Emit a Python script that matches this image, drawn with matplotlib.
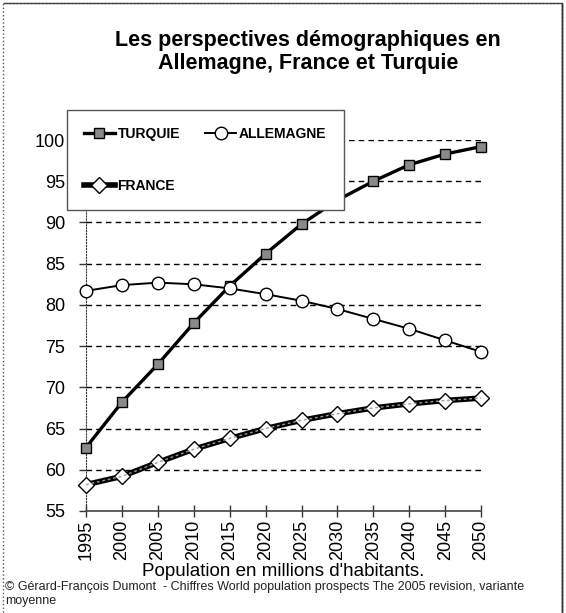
import matplotlib.pyplot as plt
import matplotlib.patches as mpatches

plt.rcParams['font.family'] = ['Liberation Sans', 'DejaVu Sans']

annees = [1995, 2000, 2005, 2010, 2015, 2020, 2025, 2030, 2035, 2040, 2045, 2050]
turquie = [62.7, 68.2, 72.8, 77.8, 82.3, 86.2, 89.8, 92.7, 95.0, 97.0, 98.3, 99.2]
allemagne = [81.7, 82.4, 82.7, 82.5, 82.0, 81.3, 80.5, 79.5, 78.3, 77.1, 75.7, 74.3]
france = [58.2, 59.2, 60.9, 62.5, 63.8, 65.0, 66.0, 66.8, 67.5, 68.0, 68.4, 68.7]
graduations_y = [55, 60, 65, 70, 75, 80, 85, 90, 95, 100]

fig = plt.figure(figsize=(5.66, 6.13), dpi=100)
ax = fig.add_axes([0.152, 0.1664, 0.698, 0.6052])

# cadre autour de la figure
cadre = mpatches.Rectangle((0.006, -0.05), 0.987, 1.045, transform=fig.transFigure,
                           fill=False, edgecolor='#555555', lw=1.0, linestyle=':')
fig.patches.append(cadre)
fig.patches.append(mpatches.Rectangle((0.993, -0.05), 0.0, 1.045, transform=fig.transFigure,
                                      fill=False, edgecolor='#333333', lw=1.0))
fig.patches.append(mpatches.Rectangle((0.006, 0.995), 0.987, 0.0, transform=fig.transFigure,
                                      fill=False, edgecolor='#444444', lw=1.0))

for v in graduations_y[1:]:
    ax.axhline(v, color='black', lw=1.0, linestyle=(0, (4, 3)), zorder=1)

l_t, = ax.plot(annees, turquie, color='black', lw=2.4, marker='s', markersize=7,
               markerfacecolor='#8a8a8a', markeredgecolor='black', markeredgewidth=1,
               clip_on=False, zorder=3, label='TURQUIE')
l_a, = ax.plot(annees, allemagne, color='black', lw=1.4, marker='o', markersize=9,
               markerfacecolor='white', markeredgecolor='black', markeredgewidth=1,
               clip_on=False, zorder=3, label='ALLEMAGNE')
l_f, = ax.plot(annees, france, color='black', lw=4.0, marker='D', markersize=8,
               markerfacecolor='white', markeredgecolor='black', markeredgewidth=1,
               clip_on=False, zorder=3, label='FRANCE')
ax.plot(annees, france, color='#9a9a9a', lw=1.0, linestyle=(0, (2, 2)), zorder=3.5,
        clip_on=False)

ax.set_xlim(1995, 2050)
ax.set_ylim(55, 100)
ax.set_xticks(annees)
ax.set_xticklabels([str(a) for a in annees], rotation=90, fontsize=13)
ax.set_yticks(graduations_y)
ax.set_yticklabels([str(v) for v in graduations_y], fontsize=13)
ax.tick_params(axis='x', direction='inout', length=9, width=1, color='#333333', pad=2)
ax.tick_params(axis='y', direction='out', length=5, width=1, color='#333333', pad=10)

ax.spines['top'].set_visible(False)
ax.spines['right'].set_visible(False)
ax.spines['left'].set_linestyle(':')
ax.spines['left'].set_color('#333333')
ax.spines['bottom'].set_color('#444444')
ax.spines['bottom'].set_linewidth(1.2)

ax.set_xlabel("Population en millions d'habitants.", fontsize=13.5, labelpad=2)

fig.text(0.544, 0.915, 'Les perspectives démographiques en\nAllemagne, France et Turquie',
         ha='center', va='center', fontsize=15.5, fontweight='bold', linespacing=1.1)

fig.text(0.009, 0.031, '© Gérard-François Dumont  - Chiffres World population prospects '
         'The 2005 revision, variante\nmoyenne', ha='left', va='center',
         fontsize=9, color='#222222', linespacing=1.2)

leg = ax.legend([l_t, l_f, l_a], ['TURQUIE', 'FRANCE', 'ALLEMAGNE'], ncol=2,
                loc='upper left', bbox_to_anchor=(0.118, 0.6576, 0.489, 0.163),
                bbox_transform=fig.transFigure, mode='expand',
                prop={'size': 10, 'weight': 'bold'}, framealpha=1,
                frameon=True, fancybox=False, borderaxespad=0, labelspacing=2.7,
                handlelength=2.2, handletextpad=0.2, borderpad=1.25,
                columnspacing=1.0)
leg.get_frame().set_edgecolor('#555555')
leg.get_frame().set_linewidth(1.0)
leg.set_zorder(5)

fig.savefig('out.png', dpi=100)
